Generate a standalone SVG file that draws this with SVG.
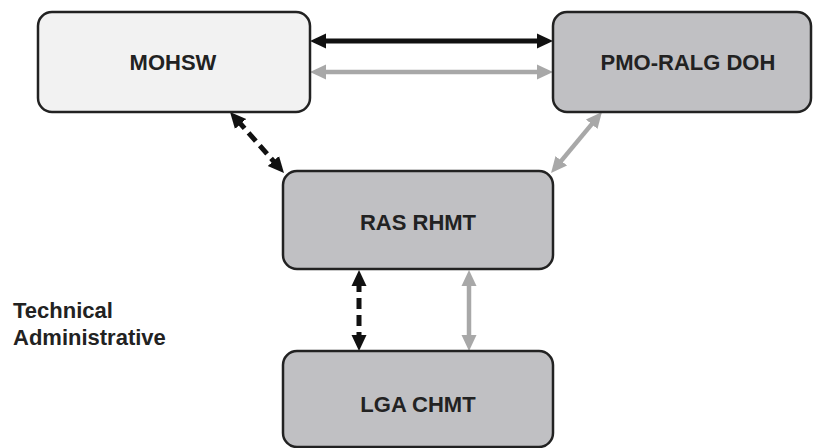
<svg xmlns="http://www.w3.org/2000/svg" width="814" height="448" viewBox="0 0 814 448">
<style>
.box{stroke:#222;stroke-width:2.5}
.light{fill:#f2f2f2}
.dark{fill:#c0c0c3}
.lbl{font-family:"Liberation Sans",Arial,sans-serif;font-weight:bold;font-size:22px;fill:#222;text-anchor:middle}
.leg{font-family:"Liberation Sans",Arial,sans-serif;font-weight:bold;font-size:22px;fill:#222}
.blk{stroke:#111;stroke-width:5;fill:none}
.gry{stroke:#a8a8a8;stroke-width:4.5;fill:none}
.dash{stroke-dasharray:11 6}
</style>
<defs>
<marker id="hb" markerUnits="userSpaceOnUse" markerWidth="18" markerHeight="18" viewBox="0 0 18 18" refX="5" refY="9" orient="auto-start-reverse">
<path d="M0,1.5 L16,9 L0,16.5 z" fill="#111"/>
</marker>
<marker id="hg" markerUnits="userSpaceOnUse" markerWidth="18" markerHeight="18" viewBox="0 0 18 18" refX="5" refY="9" orient="auto-start-reverse">
<path d="M0,1.5 L16,9 L0,16.5 z" fill="#a8a8a8"/>
</marker>
</defs>
<rect width="814" height="448" fill="#fff"/>
<g id="connectors">
<line class="blk" x1="321" y1="41" x2="542" y2="41" marker-start="url(#hb)" marker-end="url(#hb)"/>
<line class="gry" x1="321" y1="72" x2="542" y2="72" marker-start="url(#hg)" marker-end="url(#hg)"/>
<line class="blk dash" x1="237.3" y1="120.2" x2="276.7" y2="164.8" marker-start="url(#hb)" marker-end="url(#hb)"/>
<line class="gry" x1="594.9" y1="120.4" x2="558.1" y2="164.6" marker-start="url(#hg)" marker-end="url(#hg)"/>
<line class="blk dash" x1="359" y1="281" x2="359" y2="340" marker-start="url(#hb)" marker-end="url(#hb)"/>
<line class="gry" x1="469" y1="281" x2="469" y2="340" marker-start="url(#hg)" marker-end="url(#hg)"/>
</g>
<g id="mohsw">
<rect class="box light" x="38" y="12" width="272" height="100" rx="14"/>
<text class="lbl" x="173" y="70">MOHSW</text>
</g>
<g id="pmo">
<rect class="box dark" x="553" y="12" width="258" height="100" rx="14"/>
<text class="lbl" x="688" y="70">PMO-RALG DOH</text>
</g>
<g id="ras">
<rect class="box dark" x="283" y="171" width="270" height="98" rx="14"/>
<text class="lbl" x="418" y="230">RAS RHMT</text>
</g>
<g id="lga">
<rect class="box dark" x="283" y="351" width="270" height="96" rx="14"/>
<text class="lbl" x="418" y="412">LGA CHMT</text>
</g>
<g id="legend">
<text class="leg" x="13" y="318">Technical</text>
<text class="leg" x="13" y="345">Administrative</text>
</g>
</svg>
